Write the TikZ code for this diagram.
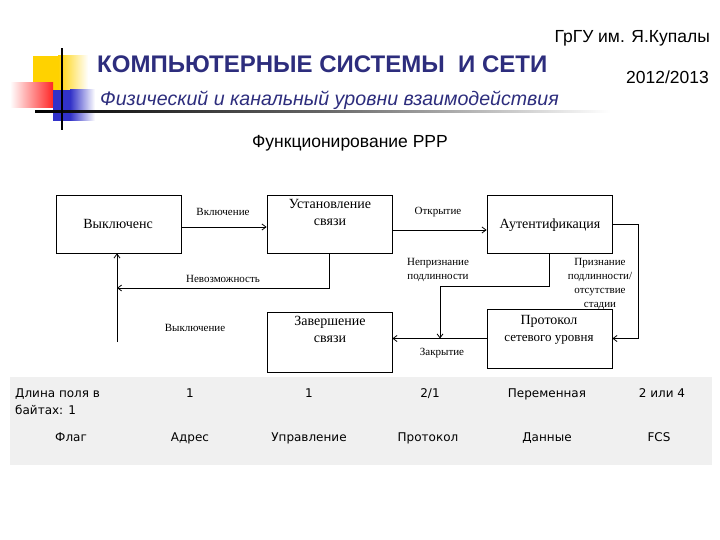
\documentclass[tikz,border=0pt]{standalone}
\usepackage{fontspec}
\setmainfont{Liberation Serif}
\newfontfamily\hdr{Liberation Sans}
\newfontfamily\tbl{DejaVu Sans}
\usetikzlibrary{arrows.meta}
\definecolor{navy}{RGB}{45,45,125}
\definecolor{band}{RGB}{240,240,240}
\definecolor{deco}{RGB}{50,50,200}
\definecolor{gold}{RGB}{255,210,0}
\tikzset{
  box/.style={draw=black, line width=0.8pt, minimum width=125pt, minimum height=58pt, inner sep=0pt},
  boxtxt/.style={font=\fontsize{14}{17}\selectfont, align=center, inner sep=0pt},
  lbl/.style={font=\fontsize{11}{14}\selectfont, align=center, inner sep=0pt},
  conn/.style={line width=0.8pt, -{Straight Barb[length=4pt,width=6pt]}},
  tb/.style={font=\tbl\fontsize{12}{17}\selectfont, inner sep=0pt, anchor=base},
}
\begin{document}
\begin{tikzpicture}[x=1pt,y=-1pt]
\useasboundingbox (0,0) rectangle (720,540);
\fill[white] (0,0) rectangle (720,540);
% decoration
\fill[gold] (33,56) rectangle (58,91);
\shade[left color=gold, right color=white] (58,56) rectangle (88,91);
\shade[left color=white, right color=red!85] (10,83) rectangle (53,108);
\fill[deco] (53,90) rectangle (70,121);
\shade[left color=deco, right color=white] (70,90) rectangle (95,121);
\shade[left color=black, right color=white, middle color=black!60] (35,111) rectangle (610,113);
\fill[black] (61,48) rectangle (63,130);
% header texts
\node[anchor=east, inner sep=0pt, font=\hdr\fontsize{17.5}{20}\selectfont] (uni) at (710,38) {ГрГУ им. Я.Купалы};
\node[anchor=west, inner sep=0pt, font=\hdr\bfseries\fontsize{24}{28}\selectfont, text=navy] (title) at (97,64) {КОМПЬЮТЕРНЫЕ СИСТЕМЫ\ \ И СЕТИ};
\node[anchor=east, inner sep=0pt, font=\hdr\fontsize{17.5}{20}\selectfont] (year) at (709,77) {2012/2013};
\node[anchor=west, inner sep=0pt, font=\hdr\itshape\fontsize{19.6}{24}\selectfont, text=navy] (sub) at (100,100) {Физический и канальный уровни взаимодействия};
\node[inner sep=0pt, font=\hdr\fontsize{17.5}{20}\selectfont] (ppp) at (350,143) {Функционирование PPP};
% boxes
\node[box] (b1) at (118.5,224) {};
\node[boxtxt] at (118,224) {Выключенс};
\node[box] (b2) at (329.5,224) {};
\node[boxtxt, anchor=north] at (330,199) {Установление\\связи};
\node[box] (b3) at (549.5,224) {};
\node[boxtxt] at (550,225) {Аутентификация};
\node[box, minimum height=60pt] (b4) at (329.5,342) {};
\node[boxtxt, anchor=north] at (330,316) {Завершение\\связи};
\node[box, minimum height=59pt] (b5) at (549.5,338.5) {};
\node[boxtxt, anchor=north] at (549,315) {Протокол\\{\fontsize{13}{17}\selectfont сетевого уровня}};
% connectors
\coordinate (c1) at (117,288);
\coordinate (c2) at (117,342);
\coordinate (c3) at (440,286);
\draw[conn] ([yshift=-3pt]b1.east) -- ([yshift=-3pt]b1.east -| b2.west);
\draw[conn] ([yshift=-6pt]b2.east) -- ([yshift=-6pt]b2.east -| b3.west);
\draw[conn] (b2.south) |- (c1);
\draw[conn] (c2) -- (c2 |- b1.south);
\draw[conn] (b3.south) |- (c3) -- (c3 |- b5.west);
\draw[conn] (b3.east) -- ++(26,0) |- (b5.east);
\draw[conn] (b5.west) -- (b5.west -| b4.east);
% labels
\node[lbl] (l1) at (223,212) {Включение};
\node[lbl] (l2) at (438,212) {Открытие};
\node[lbl] (l3) at (223,279) {Невозможность};
\node[lbl] (l4) at (195,328) {Выключение};
\node[lbl] (l5) at (438,270) {Непризнание\\подлинности};
\node[lbl, font=\fontsize{11}{14.3}\selectfont] (l6) at (600,284) {Признание\\подлинности/\\отсутствие\\стадии};
\node[lbl] (l7) at (442,353) {Закрытие};
% table band
\fill[band] (10,377) rectangle (712,465);
\node[tb, anchor=base west] (t0) at (15,397) {Длина поля в};
\node[tb, anchor=base west] (t0b) at (15,414) {байтах: 1};
\node[tb] (t1) at (190,397) {1};
\node[tb] (t2) at (309,397) {1};
\node[tb] (t3) at (430,397) {2/1};
\node[tb] (t4) at (547,397) {Переменная};
\node[tb] (t5) at (662,397) {2 или 4};
\node[tb] (f0) at (71,441) {Флаг};
\node[tb] (f1) at (190,441) {Адрес};
\node[tb] (f2) at (309,441) {Управление};
\node[tb] (f3) at (428,441) {Протокол};
\node[tb] (f4) at (547,441) {Данные};
\node[tb] (f5) at (659,441) {FCS};
\end{tikzpicture}
\end{document}
